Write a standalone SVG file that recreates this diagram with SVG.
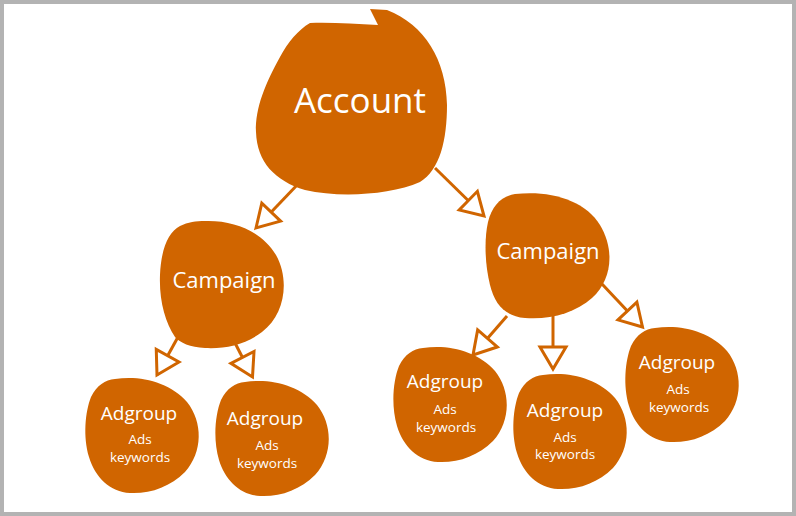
<svg xmlns="http://www.w3.org/2000/svg" xmlns:xlink="http://www.w3.org/1999/xlink" width="796" height="516" viewBox="0 0 796 516">
<style>
.blob{fill:#D06500;}
.t{font-family:"Open Sans","Liberation Sans",sans-serif;fill:#fff;text-anchor:middle;}
.big{font-size:35px;}
.mid{font-size:22px;}
.ag{font-size:19px;}
.sm{font-size:13.5px;}
.conn{stroke:#D06500;stroke-width:3;fill:none;marker-end:url(#ah);}
</style>
<defs>
<marker id="ah" markerUnits="userSpaceOnUse" viewBox="-3 -16 30 32" markerWidth="30" markerHeight="32" refX="22" refY="0" orient="auto" overflow="visible">
<path d="M0,-13 L22,0 L0,13 Z" fill="#fff" stroke="#D06500" stroke-width="3"/>
</marker>
<path id="agShape" d="M30,2 C55,-2 85,5 102,25 C118,45 118,75 100,95 C85,110 65,117 45,116 C25,115 10,100 4,80 C-2,60 0,35 6,20 C12,8 20,3 30,2 Z"/>
</defs>
<rect x="0" y="0" width="796" height="516" fill="#B3B3B3"/>
<rect x="4" y="4" width="788" height="508" fill="#fff"/>

<g id="connectors">
<line class="conn" x1="299" y1="183" x2="256" y2="228"/>
<line class="conn" x1="435" y1="168" x2="484" y2="216"/>
<line class="conn" x1="178" y1="337" x2="157" y2="375"/>
<line class="conn" x1="234" y1="341" x2="252.5" y2="377"/>
<line class="conn" x1="507" y1="316" x2="473" y2="355"/>
<line class="conn" x1="553" y1="316" x2="553" y2="369"/>
<line class="conn" x1="602" y1="284" x2="642.5" y2="327"/>
</g>

<g id="account">
<path class="blob" d="M310,23 C298,30 288,42 280,57 C266,82 255,108 256,132 C257,162 275,181 305,190 C340,198 390,195 420,182 C440,170 447,140 447,105 C446,60 425,25 387,10 L370,9 L378,25 C355,24 330,22 310,23 Z"/>
<text class="t big" x="360" y="113">Account</text>
</g>

<g id="campaign-left">
<path class="blob" d="M205,221 C235,220 262,232 276,255 C290,280 285,315 262,332 C245,345 225,349 205,348 C190,347 180,343 175,337 C165,322 159,300 160,275 C161,250 168,232 180,226 C188,222 196,221 205,221 Z"/>
<text class="t mid" x="224" y="288">Campaign</text>
</g>

<g id="campaign-right">
<path class="blob" d="M515,194 C550,190 585,200 600,225 C615,250 612,280 592,298 C575,313 550,320 525,318 C505,316 495,305 490,285 C485,265 484,240 488,222 C492,205 502,196 515,194 Z"/>
<text class="t mid" x="548" y="259">Campaign</text>
</g>

<g id="adgroup-1">
<use xlink:href="#agShape" class="blob" transform="translate(85,377)"/>
<text class="t ag" x="139" y="420">Adgroup</text>
<text class="t sm" x="140" y="444">Ads</text>
<text class="t sm" x="140" y="462">keywords</text>
</g>

<g id="adgroup-2">
<use xlink:href="#agShape" class="blob" transform="translate(215,380)"/>
<text class="t ag" x="265" y="425">Adgroup</text>
<text class="t sm" x="267" y="450">Ads</text>
<text class="t sm" x="267" y="468">keywords</text>
</g>

<g id="adgroup-3">
<use xlink:href="#agShape" class="blob" transform="translate(393,346)"/>
<text class="t ag" x="445" y="388">Adgroup</text>
<text class="t sm" x="445" y="414">Ads</text>
<text class="t sm" x="446" y="432">keywords</text>
</g>

<g id="adgroup-4">
<use xlink:href="#agShape" class="blob" transform="translate(513,373)"/>
<text class="t ag" x="565" y="417">Adgroup</text>
<text class="t sm" x="565" y="442">Ads</text>
<text class="t sm" x="565" y="459">keywords</text>
</g>

<g id="adgroup-5">
<use xlink:href="#agShape" class="blob" transform="translate(625,326)"/>
<text class="t ag" x="677" y="369">Adgroup</text>
<text class="t sm" x="678" y="394">Ads</text>
<text class="t sm" x="679" y="412">keywords</text>
</g>
</svg>
